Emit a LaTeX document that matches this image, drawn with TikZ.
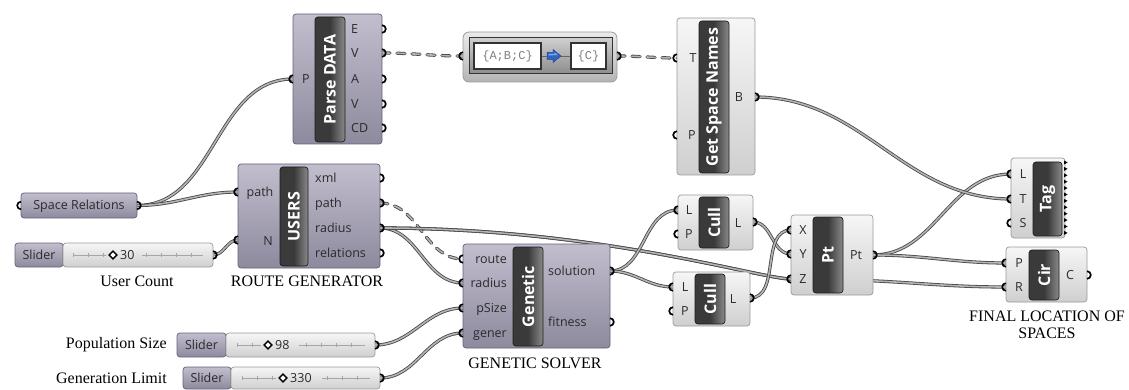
\documentclass[tikz,border=0pt]{standalone}
\usepackage{fontspec}
\setmainfont{Liberation Serif}
\setsansfont{Open Sans}
\newfontfamily\monof{Liberation Mono}
\usetikzlibrary{calc}
\pgfdeclarelayer{bg}
\pgfsetlayers{bg,main}
\definecolor{purpT}{HTML}{C2BECE}
\definecolor{purpB}{HTML}{8E8A9E}
\definecolor{purpD}{HTML}{66627A}
\definecolor{liteT}{HTML}{F6F6F6}
\definecolor{liteB}{HTML}{CFCFCF}
\definecolor{liteD}{HTML}{9A9A9A}
\definecolor{barC}{HTML}{3A3A3A}
\definecolor{barH}{HTML}{8A8A8A}
\definecolor{barD}{HTML}{1C1C1C}
\definecolor{wireO}{HTML}{454545}
\definecolor{wireI}{HTML}{B4B4B4}
\definecolor{txt}{HTML}{2A2A2A}
\definecolor{fltT}{HTML}{EAEAEA}
\definecolor{fltB}{HTML}{B4B4B4}
\definecolor{inT}{HTML}{CFCFCF}
\definecolor{inB}{HTML}{8C8C8C}
\definecolor{arrB}{HTML}{2F63C4}
\definecolor{arrL}{HTML}{7FA8EE}
\newcommand\ipt[1]{\draw[port] ($(#1)+(0pt,3.8pt)$) arc[start angle=90,end angle=270,radius=3.8pt];}
\newcommand\opt[1]{\draw[port] ($(#1)+(0pt,-3.8pt)$) arc[start angle=-90,end angle=90,radius=3.8pt];}
\newcommand\dmd[2]{\draw[line width=1.4pt, fill=white] (#1,#2-3.8) -- (#1+3.8,#2) -- (#1,#2+3.8) -- (#1-3.8,#2) -- cycle;}
\begin{document}
\begin{tikzpicture}[x=1pt,y=-1pt,
 purp/.style={draw=purpD, line width=0.7pt, rounded corners=3pt, top color=purpT, bottom color=purpB, inner sep=0pt},
 lite/.style={draw=liteD, line width=0.7pt, rounded corners=3pt, top color=liteT, bottom color=liteB, inner sep=0pt},
 bar/.style={draw=barD, line width=0.7pt, rounded corners=3pt, left color=barC, right color=barH, middle color=barC, text=white, font=\sffamily\bfseries\fontsize{16}{16}\selectfont, rotate=90, inner sep=0pt},
 lbl/.style={text=txt, font=\sffamily\fontsize{12.5}{12.5}\selectfont, inner sep=0pt, text height=8.8pt, text depth=0pt},
 caption/.style={text=black, font=\rmfamily\fontsize{16}{16}\selectfont, inner sep=0pt},
 wire/.style={draw=wireO, line width=0.8pt, double=wireI, double distance=1.6pt, out=0, in=180},
 dwire/.style={wire, line cap=round, dash pattern=on 8pt off 7pt},
 port/.style={draw=black, line width=1.7pt},
 trk/.style={draw=gray!70, line width=0.5pt},
 tks/.style={draw=gray!70, line width=4pt, dash pattern=on 0.6pt off 14.4pt},
]
\useasboundingbox (0,0) rectangle (1129,390);

% ---------------- Parse DATA
\node[purp, minimum width=89, minimum height=130] (pd) at (337.5,79) {};
\node[bar, minimum width=125, minimum height=30] (pdb) at (330,79.5) {Parse DATA};
\node[lbl] (pdlP) at (306,79) {P};
\node[lbl, anchor=west] (pdlE) at (351,29) {E};
\node[lbl, anchor=west] (pdlV) at (351,53) {V};
\node[lbl, anchor=west] (pdlA) at (351,79) {A};
\node[lbl, anchor=west] (pdlV2) at (351,104) {V};
\node[lbl, anchor=west] (pdlCD) at (351,128) {CD};
\coordinate (pdP) at (293,79);
\coordinate (pdE) at (382,29);
\coordinate (pdV) at (382,53);
\coordinate (pdA) at (382,79);
\coordinate (pdV2) at (382,104);
\coordinate (pdCD) at (382,128);

% ---------------- filter
\node[draw=liteD, line width=0.8pt, rounded corners=6pt, top color=fltT, bottom color=fltB, minimum width=154, minimum height=50, inner sep=0pt] (flt) at (540,57) {};
\node[draw=black!80, line width=1pt, top color=inT, bottom color=inB, minimum width=143, minimum height=36, inner sep=0pt] (fltin) at (540.5,56) {};
\node[draw=black!80, line width=1.2pt, fill=white, minimum width=67, minimum height=26, inner sep=0pt, text=gray, font=\monof\fontsize{12}{12}\selectfont] (flta) at (507.5,56) {\{A;B;C\}};
\node[draw=black!80, line width=1.2pt, fill=white, minimum width=35, minimum height=26, inner sep=0pt, text=gray, font=\monof\fontsize{12}{12}\selectfont] (fltb) at (588.5,56) {\{C\}};
\draw[black!60, line width=0.8pt] (flta.east) -- (fltb.west);
\fill[arrB, draw=arrB!70!black, line width=0.5pt] (547,52.5) -- (553,52.5) -- (553,49.5) -- (561,56) -- (553,62.5) -- (553,59.5) -- (547,59.5) -- cycle;
\fill[arrL] (548.5,54) -- (554.5,54) -- (554.5,52.5) -- (558,55) -- (548.5,55.5) -- cycle;
\coordinate (fltIn) at (463,56);
\coordinate (fltOut) at (617,56);

% ---------------- Get Space Names
\node[lite, minimum width=78, minimum height=157] (gsn) at (716,96.5) {};
\node[bar, minimum width=152, minimum height=30] (gsnb) at (714,97) {Get Space Names};
\node[lbl] (gsnlT) at (693,58) {T};
\node[lbl] (gsnlP) at (692,135) {P};
\node[lbl] (gsnlB) at (739,97) {B};
\coordinate (gsnT) at (677,58);
\coordinate (gsnP) at (677,135);
\coordinate (gsnB) at (755,97);

% ---------------- Space Relations
\node[purp, lbl, minimum width=116, minimum height=25] (sr) at (79,205.5) {Space Relations};
\coordinate (srIn) at (21,205.5);
\coordinate (srOut) at (137,205.5);

% ---------------- USERS
\node[purp, minimum width=142, minimum height=104] (us) at (309,216) {};
\node[bar, minimum width=99, minimum height=28] (usb) at (294,216.5) {USERS};
\node[lbl] (uslP) at (260,192) {path};
\node[lbl] (uslN) at (268,241) {N};
\node[lbl, anchor=west] (uslX) at (315,178) {xml};
\node[lbl, anchor=west] (uslPo) at (315,203) {path};
\node[lbl, anchor=west] (uslR) at (315,228) {radius};
\node[lbl, anchor=west] (uslRe) at (315,253) {relations};
\coordinate (usPath) at (238,192);
\coordinate (usN) at (238,240);
\coordinate (usXml) at (380,178);
\coordinate (usPo) at (380,203);
\coordinate (usRad) at (380,228);
\coordinate (usRel) at (380,253);
\node[caption] (capRG) at (307,281) {ROUTE GENERATOR};

% ---------------- Slider 30
\node[purp, lbl, minimum width=48, minimum height=24] (s1b) at (39,255) {Slider};
\node[lite, minimum width=150, minimum height=24] (s1t) at (138,255) {};
\draw[trk] (73,255) -- (106,255) (142,255) -- (203,255);
\draw[tks] (73,255) -- (106,255);
\draw[tks] (146,255) -- (203,255);
\dmd{113}{255}
\node[lbl, anchor=west] (s1v) at (120,255) {30};
\coordinate (s1o) at (213,255);
\node[caption] (capUC) at (137,281) {User Count};

% ---------------- Slider 98
\node[purp, lbl, minimum width=49, minimum height=24] (s2b) at (201.5,345) {Slider};
\node[lite, minimum width=149, minimum height=24] (s2t) at (300.5,345) {};
\draw[trk] (237,345) -- (261,345) (299,345) -- (365,345);
\draw[tks] (237,345) -- (261,345);
\draw[tks] (306,345) -- (365,345);
\dmd{268}{345}
\node[lbl, anchor=west] (s2v) at (275,345) {98};
\coordinate (s2o) at (375,345);
\node[caption, anchor=east] (capPS) at (167,345) {Population Size};

% ---------------- Slider 330
\node[purp, lbl, minimum width=48, minimum height=22] (s3b) at (207,378) {Slider};
\node[lite, minimum width=149, minimum height=22] (s3t) at (305.5,378) {};
\draw[trk] (242,378) -- (276,378) (322,378) -- (370,378);
\draw[tks] (242,378) -- (276,378);
\draw[tks] (327,378) -- (370,378);
\dmd{283}{378}
\node[lbl, anchor=west] (s3v) at (290,378) {330};
\coordinate (s3o) at (380,378);
\node[caption, anchor=east] (capGL) at (167,378) {Generation Limit};

% ---------------- Genetic
\node[purp, minimum width=147, minimum height=104] (gen) at (536.5,296) {};
\node[bar, minimum width=99, minimum height=30] (genb) at (528,296.5) {Genetic};
\node[lbl, anchor=east] (genlR) at (507,259) {route};
\node[lbl, anchor=east] (genlRa) at (507,283) {radius};
\node[lbl, anchor=east] (genlP) at (507,308) {pSize};
\node[lbl, anchor=east] (genlG) at (507,333) {gener};
\node[lbl, anchor=west] (genlS) at (548,271) {solution};
\node[lbl, anchor=west] (genlF) at (548,322) {fitness};
\coordinate (genRoute) at (463,259);
\coordinate (genRad) at (463,283);
\coordinate (genPS) at (463,308);
\coordinate (genGen) at (463,333);
\coordinate (genSol) at (610,271);
\coordinate (genFit) at (610,322);
\node[caption] (capGS) at (535,363) {GENETIC SOLVER};

% ---------------- Cull 1
\node[lite, minimum width=75, minimum height=55] (c1) at (715.5,222.5) {};
\node[bar, minimum width=51, minimum height=30] (c1b) at (714,222.5) {Cull};
\node[lbl] (c1lL) at (689,210) {L};
\node[lbl] (c1lP) at (689,234) {P};
\node[lbl] (c1lO) at (738,223) {L};
\coordinate (c1L) at (678,210);
\coordinate (c1P) at (678,234);
\coordinate (c1O) at (753,222);

% ---------------- Cull 2
\node[lite, minimum width=77, minimum height=54] (c2) at (711.5,299) {};
\node[bar, minimum width=50, minimum height=30] (c2b) at (710,299) {Cull};
\node[lbl] (c2lL) at (685,287) {L};
\node[lbl] (c2lP) at (685,311) {P};
\node[lbl] (c2lO) at (733,299) {L};
\coordinate (c2L) at (673,287);
\coordinate (c2P) at (673,311);
\coordinate (c2O) at (750,298);

% ---------------- Pt
\node[lite, minimum width=82, minimum height=80] (pt) at (832,255) {};
\node[bar, minimum width=76, minimum height=30] (ptb) at (828,255) {Pt};
\node[lbl] (ptlX) at (803,230) {X};
\node[lbl] (ptlY) at (803,254) {Y};
\node[lbl] (ptlZ) at (803,279) {Z};
\node[lbl] (ptlO) at (856,255) {Pt};
\coordinate (ptX) at (791,230);
\coordinate (ptY) at (791,254);
\coordinate (ptZ) at (791,279);
\coordinate (ptO) at (873,255);

% ---------------- Tag
\node[lite, minimum width=54, minimum height=80] (tag) at (1038,198) {};
\node[bar, minimum width=74, minimum height=29] (tagb) at (1047.5,199) {Tag};
\node[lbl] (taglL) at (1023,174) {L};
\node[lbl] (taglT) at (1023,199) {T};
\node[lbl] (taglS) at (1023,223) {S};
\foreach \k in {0,...,11} \fill[black] (1064,160.5+\k*6.4) -- ++(3.5,2) -- ++(-3.5,2) -- cycle;
\coordinate (tagL) at (1011,174);
\coordinate (tagT) at (1011,199);
\coordinate (tagS) at (1011,223);

% ---------------- Cir
\node[lite, minimum width=81, minimum height=55] (cir) at (1046.5,274.5) {};
\node[bar, minimum width=50, minimum height=30] (cirb) at (1044,275) {Cir};
\node[lbl] (cirlP) at (1019,263) {P};
\node[lbl] (cirlR) at (1019,287) {R};
\node[lbl] (cirlC) at (1070,275) {C};
\coordinate (cirP) at (1006,263);
\coordinate (cirR) at (1006,287);
\coordinate (cirC) at (1087,275);
\node[caption] (capF1) at (1047,316) {FINAL LOCATION OF};
\node[caption] (capF2) at (1047,333) {SPACES};

% ---------------- wires
\begin{pgfonlayer}{bg}
\draw[wire] (srOut) to (pdP);
\draw[wire] (srOut) to (usPath);
\draw[wire] (s1o) to (usN);
\draw[dwire] (pdV) to (fltIn);
\draw[dwire] (fltOut) to (gsnT);
\draw[dwire] (usPo) to (genRoute);
\draw[wire] (usRad) to (genRad);
\draw[wire] (usRad) .. controls (600,228) and (760,279) .. (ptZ);
\draw[wire] (usRad) .. controls (600,228) and (760,279) .. (ptZ) .. controls (900,279) and (930,287) .. (cirR);
\draw[wire] (s2o) to (genPS);
\draw[wire] (s3o) to (genGen);
\draw[wire] (genSol) to (c1L);
\draw[wire] (genSol) to (c2L);
\draw[wire] (c1O) to (ptY);
\draw[wire] (c2O) to (ptX);
\draw[wire] (ptO) to (tagL);
\draw[wire] (ptO) to (cirP);
\draw[wire] (gsnB) to (tagT);
\end{pgfonlayer}

% ---------------- ports
\foreach \p in {pdP,fltIn,gsnT,gsnP,srIn,usPath,usN,genRoute,genRad,genPS,genGen,c1L,c1P,c2L,c2P,ptX,ptY,ptZ,tagL,tagT,tagS,cirP,cirR} {\ipt{\p}}
\foreach \p in {pdE,pdV,pdA,pdV2,pdCD,fltOut,gsnB,srOut,usXml,usPo,usRad,usRel,s1o,s2o,s3o,genSol,genFit,c1O,c2O,ptO,cirC} {\opt{\p}}
\end{tikzpicture}
\end{document}
